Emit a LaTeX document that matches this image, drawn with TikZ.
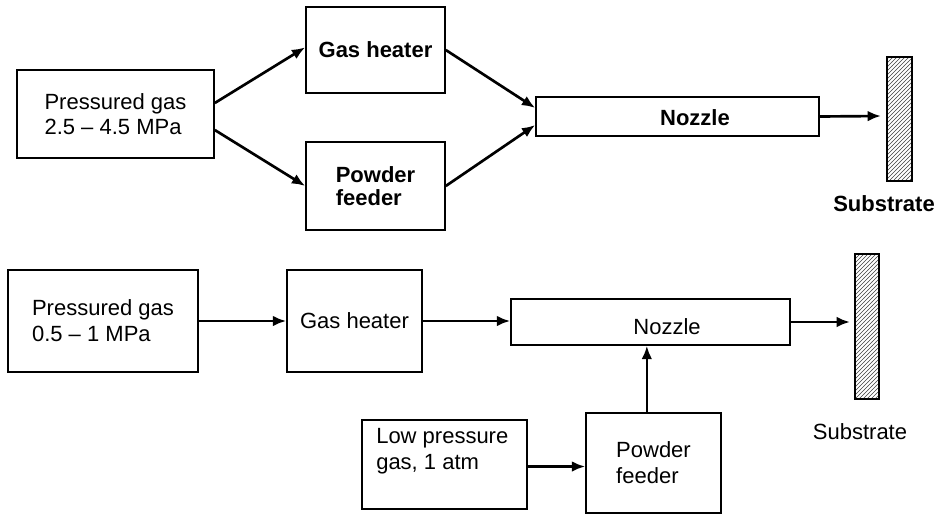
\documentclass[tikz,border=0pt]{standalone}
\usepackage{fontspec}
\setmainfont{Liberation Sans}
\usetikzlibrary{arrows.meta,patterns}

\tikzset{
  box/.style={draw, line width=1.2pt, inner sep=0pt, align=left},
  flow/.style={line width=2pt, -{Latex[length=10pt,width=8pt]}},
  plate/.style={draw, line width=1.2pt, pattern=north east lines, pattern color=black!75, inner sep=0pt}
}

\begin{document}
\begin{tikzpicture}[x=0.75pt,y=0.75pt,yscale=-1,xscale=1,
  font=\fontsize{16.5}{18.5}\selectfont]
\useasboundingbox (0,0) rectangle (935,514);

%%% upper scheme
%Shape: Rectangle
\node [box, minimum width=147.75pt, minimum height=66pt] (tgas) at (115.5,114) {Pressured gas\\2.5 -- 4.5 MPa};
%Shape: Rectangle
\node [box, minimum width=104.25pt, minimum height=64.5pt, font=\fontsize{16.5}{18.5}\selectfont\bfseries] (theat) at (375.5,50) {Gas heater};
%Shape: Rectangle
\node [box, minimum width=104.25pt, minimum height=66pt, font=\fontsize{16.5}{17.5}\selectfont\bfseries] (tfeed) at (375.5,186) {Powder\\feeder};
%Shape: Rectangle
\node [box, minimum width=212.25pt, minimum height=29.25pt] (tnoz) at (677.5,116.5) {};
% Text Node
\node [font=\fontsize{16.5}{18.5}\selectfont\bfseries] (tnoztext) at (695,118) {Nozzle};
%Shape: Rectangle
\node [plate, minimum width=18.75pt, minimum height=93pt] (tsub) at (899.5,119) {};
% Text Node
\node [font=\fontsize{16.5}{18.5}\selectfont\bfseries] (tsubtext) at (884,204) {Substrate};
\coordinate (ttip) at (881,116);

%Straight Lines
\draw [flow] ([yshift=-8.25pt]tgas.east) -- ([yshift=-2pt]theat.west);
\draw [flow] ([yshift=12pt]tgas.east) -- (tfeed.west);
\draw [flow] (theat.east) -- ([yshift=-6.4pt]tnoz.west);
\draw [flow] (tfeed.east) -- ([yshift=6.4pt]tnoz.west);
\draw [flow] (tnoz.east) -- (ttip);

%%% lower scheme
%Shape: Rectangle
\node [box, minimum width=142.5pt, minimum height=76.5pt, font=\fontsize{16.5}{19.5}\selectfont] (bgas) at (103,321) {Pressured gas\\0.5 -- 1 MPa};
%Shape: Rectangle
\node [box, minimum width=101.25pt, minimum height=76.5pt] (bheat) at (354.5,321) {Gas heater};
%Shape: Rectangle
\node [box, minimum width=209.25pt, minimum height=34.5pt] (bnoz) at (650.5,322) {};
% Text Node
\node (bnoztext) at (667,327) {Nozzle};
%Shape: Rectangle
\node [plate, minimum width=18pt, minimum height=108.75pt] (bsub) at (867,326.5) {};
% Text Node
\node (bsubtext) at (860,432) {Substrate};
\coordinate (btip) at (850,322);
%Shape: Rectangle
\node [box, minimum width=101.25pt, minimum height=75pt, font=\fontsize{16.5}{19.5}\selectfont] (bfeed) at (653.5,463) {Powder\\feeder};
%Shape: Rectangle
\node [box, minimum width=123.75pt, minimum height=66.75pt] (blow) at (444.5,464.5) {};
% Text Node
\node [anchor=north west, inner sep=0pt, align=left, font=\fontsize{16.5}{19.5}\selectfont] (blowtext) at (376,428) {Low pressure\\gas, 1 atm};

%Straight Lines
\draw [flow] (bgas.east) -- (bheat.west);
\draw [flow] (bheat.east) -- (bheat.east -| bnoz.west);
\draw [flow] (bnoz.east) -- (btip);
\draw [flow] ([xshift=-5pt]bfeed.north) -- ([xshift=-5pt]bfeed.north |- bnoz.south);
\draw [flow] ([yshift=1.5pt]blow.east) -- ([yshift=1.5pt]blow.east -| bfeed.west);

\end{tikzpicture}
\end{document}
